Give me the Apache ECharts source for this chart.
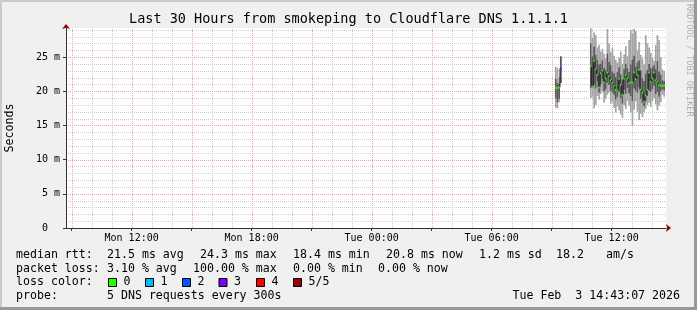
<!DOCTYPE html>
<html><head><meta charset="utf-8">
<script src="https://cdn.jsdelivr.net/npm/echarts@6/dist/echarts.min.js"></script>
<style>html,body{margin:0;padding:0;background:#f0f0f0;}#c{width:697px;height:310px;}</style>
</head><body><div id="c"></div>
<script>
// ---------------- data ----------------
const titleText = 'Last 30 Hours from smokeping to Cloudflare DNS 1.1.1.1';
const yAxisName = 'Seconds';
const rangeStart = 'Mon 08:43:07';
const rangeEnd = 'Tue 14:43:07';
const stepMinutes = 5;
const xLabelHours = [12, 18, 24, 30, 36];
const majorGridHours = [9, 12, 15, 18, 21, 24, 27, 30, 33, 36];
const minorGridHours = [10, 11, 13, 14, 16, 17, 19, 20, 22, 23, 25, 26, 28, 29, 31, 32, 34, 35, 37, 38];
const yMajorTicks = [0, 5, 10, 15, 20, 25];
const yMajorGrid = [5, 10, 15, 20, 25];
const yMinorTicks = [1, 2, 3, 4, 6, 7, 8, 9, 11, 12, 13, 14, 16, 17, 18, 19, 21, 22, 23, 24, 26, 27, 28, 29];
const yMax = 29.25;

// step start times (5 min steps), rtt in ms: sorted pings min, 2nd, median, 4th, max
const stepTimes = ['Tue 09:10','Tue 09:15','Tue 09:20','Tue 09:25',
  'Tue 10:55','Tue 11:00','Tue 11:05','Tue 11:10','Tue 11:15','Tue 11:20','Tue 11:25','Tue 11:30','Tue 11:35','Tue 11:40',
  'Tue 11:45','Tue 11:50','Tue 11:55','Tue 12:00','Tue 12:05','Tue 12:10','Tue 12:15','Tue 12:20','Tue 12:25','Tue 12:30',
  'Tue 12:35','Tue 12:40','Tue 12:45','Tue 12:50','Tue 12:55','Tue 13:00','Tue 13:05','Tue 13:10','Tue 13:15','Tue 13:20',
  'Tue 13:25','Tue 13:30','Tue 13:35','Tue 13:40','Tue 13:45','Tue 13:50','Tue 13:55','Tue 14:00','Tue 14:05','Tue 14:10',
  'Tue 14:15','Tue 14:20','Tue 14:25','Tue 14:30','Tue 14:35'];
const pingMin = [17.6, 17.5, 18.4, 21.2,
  19.0, 19.2, 17.5, 18.0, 19.3, 18.8, 19.6, 20.0, 18.3, 18.9,
  19.5, 19.8, 18.2, 18.5, 17.6, 16.9, 17.8, 17.2, 16.6, 16.1,
  18.0, 17.4, 18.6, 17.9, 16.9, 14.9, 17.3, 18.5, 17.0, 15.8,
  16.7, 16.2, 16.9, 17.4, 18.0, 18.3, 17.7, 18.6, 19.0, 18.1,
  17.2, 17.9, 18.4, 19.5, 19.2];
const ping2 = [19.0, 18.4, 18.9, 21.2,
  20.5, 20.5, 21.0, 20.4, 21.5, 19.8, 21.0, 21.8, 20.0, 20.3,
  21.2, 20.9, 20.1, 19.8, 19.5, 18.8, 19.2, 19.9, 19.0, 18.2,
  20.2, 19.6, 20.5, 19.7, 19.3, 18.6, 20.4, 20.1, 19.8, 20.6,
  18.9, 18.3, 17.8, 18.5, 19.3, 20.1, 19.9, 20.3, 20.8, 19.6,
  19.9, 19.2, 20.0, 20.3, 20.1];
const pingMedian = [20.5, 20.5, 20.6, 23.3,
  23.6, 20.7, 24.4, 23.2, 22.4, 20.6, 22.7, 23.0, 21.3, 21.9,
  22.7, 22.2, 21.6, 21.2, 20.8, 20.2, 20.1, 21.8, 20.9, 19.5,
  21.9, 22.3, 21.9, 21.2, 21.3, 21.3, 22.7, 21.8, 22.4, 23.1,
  20.2, 19.8, 18.5, 19.4, 20.2, 22.7, 21.4, 21.9, 22.7, 21.6,
  21.4, 20.9, 20.8, 20.8, 20.8];
const ping4 = [21.8, 21.2, 21.1, 25.1,
  27.0, 25.1, 26.5, 25.3, 24.6, 23.9, 24.0, 24.5, 23.4, 23.1,
  25.5, 24.3, 23.8, 22.9, 22.6, 22.0, 22.8, 23.5, 22.5, 21.6,
  23.2, 24.0, 23.4, 22.8, 23.9, 24.6, 25.2, 23.6, 24.2, 24.5,
  23.0, 21.9, 21.5, 22.6, 23.1, 24.0, 23.3, 23.5, 23.8, 23.2,
  24.4, 22.9, 22.4, 21.6, 21.5];
const pingMax = [23.6, 23.4, 22.0, 25.1,
  29.2, 27.8, 28.6, 28.2, 26.4, 26.8, 25.8, 26.2, 25.5, 24.8,
  29.1, 27.0, 25.7, 26.3, 25.2, 24.6, 24.2, 24.9, 25.8, 24.0,
  25.4, 26.6, 25.1, 27.5, 29.0, 28.5, 29.1, 28.8, 26.0, 27.2,
  25.3, 24.8, 23.9, 28.2, 27.0, 26.4, 25.6, 24.9, 24.5, 26.8,
  28.2, 27.5, 25.0, 23.2, 23.0];
const lossCount = [0, 0, 0, 3,
  0, 0, 0, 0, 0, 0, 0, 0, 0, 0,
  0, 0, 0, 0, 0, 0, 0, 0, 0, 0,
  0, 0, 0, 0, 0, 0, 0, 0, 0, 0,
  0, 0, 0, 0, 0, 0, 0, 0, 0, 0,
  0, 0, 0, 0, 0];
const lossLabels = ['0', '1', '2', '3', '4', '5/5'];
const lossColors = ['#26ff00', '#00b8ff', '#0059ff', '#7e00ff', '#ff0000', '#a10000'];

const legendRows = [
  ['median rtt:', '21.5 ms avg', '24.3 ms max', '18.4 ms min', '20.8 ms now', '1.2 ms sd', '18.2', 'am/s'],
  ['packet loss:', '3.10 % avg', '100.00 % max', '0.00 % min', '0.00 % now'],
];
const probeLabel = 'probe:';
const probeText = '5 DNS requests every 300s';
const lossColorLabel = 'loss color:';
const dateText = 'Tue Feb  3 14:43:07 2026';
const watermark = 'RRDTOOL / TOBI OETIKER';

// ---------------- helpers ----------------
function parseT(s) {
  const [d, hms] = s.split(' ');
  const p = hms.split(':').map(Number);
  return (d === 'Tue' ? 24 : 0) + p[0] + p[1] / 60 + (p[2] || 0) / 3600;
}
const pad = n => (n < 10 ? '0' : '') + n;
const STEP = stepMinutes / 60;
const data = stepTimes.map((t, i) => [parseT(t), pingMin[i], ping2[i], pingMedian[i], ping4[i], pingMax[i], lossCount[i]]);
const XMIN = parseT(rangeStart), XMAX = parseT(rangeEnd);

const MONO = '"DejaVu Sans Mono", monospace';
const LEG_FONT = '11.6px "DejaVu Sans Mono", monospace';

function renderSmoke(params, api) {
  const t = api.value(0);
  const xL = api.coord([t, 0])[0];
  const xR = api.coord([t + STEP, 0])[0];
  const y = v => api.coord([t, v])[1];
  const w = xR - xL;
  const mn = api.value(1), q2 = api.value(2), md = api.value(3), q4 = api.value(4), mx = api.value(5), ls = api.value(6);
  const ch = [
    { type: 'rect', shape: { x: xL, y: y(mx), width: w, height: y(mn) - y(mx) }, style: { fill: '#a4a4a4' } },
    { type: 'rect', shape: { x: xL, y: y(q4), width: w, height: y(q2) - y(q4) }, style: { fill: '#585858' } }
  ];
  const i = params.dataIndexInside;
  if (i > 0) {
    const tp = api.value(0, i - 1);
    if (Math.abs(tp + STEP - t) < 1e-6) {
      ch.push({ type: 'line', shape: { x1: xL, y1: y(api.value(3, i - 1)), x2: xL, y2: y(md) }, style: { stroke: '#202020', lineWidth: 1 } });
    }
  }
  ch.push({ type: 'rect', shape: { x: xL, y: y(md) - 1, width: w, height: 2 }, style: { fill: lossColors[ls] } });
  return { type: 'group', children: ch };
}
// grid line items are [x, y] pairs; vertical lines use x, horizontal lines use y
function vGrid(color) {
  return function (params, api) {
    const h = api.value(0);
    const a = api.coord([h, 0]), b = api.coord([h, yMax]);
    const x = Math.round(a[0]) + 0.5;
    return { type: 'line', shape: { x1: x, y1: a[1], x2: x, y2: b[1] }, style: { stroke: color, lineWidth: 1, lineDash: [1, 1] } };
  };
}
function hGrid(color) {
  return function (params, api) {
    const v = api.value(1);
    const a = api.coord([XMIN, v]), b = api.coord([XMAX, v]);
    const y = Math.round(a[1]) + 0.5;
    return { type: 'line', shape: { x1: a[0], y1: y, x2: b[0], y2: y }, style: { stroke: color, lineWidth: 1, lineDash: [1, 1] } };
  };
}
const MINOR = '#cdcdcd', MAJOR = '#eda3a3';
const gridSeries = (arr, isV, color) => ({
  type: 'custom', xAxisIndex: 0, yAxisIndex: 0, silent: true, z: 1, clip: false,
  renderItem: isV ? vGrid(color) : hGrid(color),
  encode: { x: 0, y: 1 },
  data: arr.map(v => (isV ? [v, 0] : [XMIN, v]))
});

// legend graphics
const legX = [[16, 107, 200, 293, 386, 479, 556, 606], [16, 107, 193, 293, 378]];
const rowY = [254.6, 268.5, 282.4, 296.3];
const graphics = [];
legendRows.forEach((row, r) => row.forEach((txt, j) => {
  graphics.push({ type: 'text', x: legX[r][j], y: rowY[r], style: { text: txt, font: LEG_FONT, fill: '#000', verticalAlign: 'middle', align: 'left' } });
}));
graphics.push({ type: 'text', x: 16, y: rowY[2], style: { text: lossColorLabel, font: LEG_FONT, fill: '#000', verticalAlign: 'middle' } });
const boxX = [109, 146, 183, 219.5, 257, 294];
lossLabels.forEach((lab, j) => {
  graphics.push({ type: 'rect', shape: { x: boxX[j] - 0.5, y: 278.5, width: 8, height: 8 }, style: { fill: lossColors[j], stroke: '#000', lineWidth: 1 } });
  graphics.push({ type: 'text', x: boxX[j] + 14.5, y: rowY[2], style: { text: lab, font: LEG_FONT, fill: '#000', verticalAlign: 'middle' } });
});
graphics.push({ type: 'text', x: 16, y: rowY[3], style: { text: probeLabel, font: LEG_FONT, fill: '#000', verticalAlign: 'middle' } });
graphics.push({ type: 'text', x: 107, y: rowY[3], style: { text: probeText, font: LEG_FONT, fill: '#000', verticalAlign: 'middle' } });
graphics.push({ type: 'text', x: 680, y: rowY[3], style: { text: dateText, font: LEG_FONT, fill: '#000', verticalAlign: 'middle', align: 'right' } });
graphics.push({ type: 'text', x: 10, y: 128, rotation: Math.PI / 2, style: { text: yAxisName, font: LEG_FONT, fill: '#000', verticalAlign: 'middle', align: 'center' } });
graphics.push({ type: 'text', x: 689.5, y: 4, rotation: -Math.PI / 2, style: { text: watermark, font: '8.5px "DejaVu Sans Mono", monospace', fill: '#b0b0b0', verticalAlign: 'middle', align: 'left' } });
// frame
graphics.push({ type: 'rect', shape: { x: 0, y: 0, width: 697, height: 2 }, style: { fill: '#cbcbcb' } });
graphics.push({ type: 'rect', shape: { x: 0, y: 0, width: 2, height: 310 }, style: { fill: '#cbcbcb' } });
graphics.push({ type: 'rect', shape: { x: 0, y: 307, width: 697, height: 3 }, style: { fill: '#999999' } });
graphics.push({ type: 'rect', shape: { x: 694, y: 0, width: 3, height: 310 }, style: { fill: '#999999' } });

const chart = echarts.init(document.getElementById('c'), null, { renderer: 'canvas' });
chart.setOption({
  animation: false,
  backgroundColor: '#f0f0f0',
  title: { text: titleText, left: 'center', top: 12, padding: 0, textStyle: { fontFamily: MONO, fontSize: 13.5, fontWeight: 'normal', color: '#000' } },
  grid: { left: 66, top: 28, width: 600, height: 200, show: true, backgroundColor: '#ffffff', borderWidth: 0 },
  xAxis: [
    { type: 'value', min: XMIN, max: XMAX, position: 'bottom',
      axisLine: { show: true, onZero: false, symbol: ['none', 'arrow'], symbolSize: [6, 5], symbolOffset: [0, 5], lineStyle: { color: '#7f0000', width: 1 } },
      axisTick: { show: true, length: 3, customValues: majorGridHours, lineStyle: { color: '#333' } },
      axisLabel: { show: true, customValues: xLabelHours, margin: 5, fontFamily: MONO, fontSize: 10, color: '#000',
        formatter: v => (v < 24 ? 'Mon ' + pad(v) : 'Tue ' + pad(v - 24)) + ':00' },
      splitLine: { show: false } },
    { type: 'value', min: XMIN, max: XMAX, position: 'bottom', z: 5,
      axisLine: { show: true, onZero: false, lineStyle: { color: '#333', width: 1 } },
      axisTick: { show: false }, axisLabel: { show: false }, splitLine: { show: false } }
  ],
  yAxis: [
    { type: 'value', min: 0, max: yMax, position: 'left',
      axisLine: { show: true, onZero: false, symbol: ['none', 'arrow'], symbolSize: [6, 5], symbolOffset: [0, 4], lineStyle: { color: '#7f0000', width: 1 } },
      axisTick: { show: true, length: 3, customValues: yMajorTicks, lineStyle: { color: '#333' } },
      axisLabel: { show: true, customValues: yMajorTicks, margin: 6, fontFamily: MONO, fontSize: 10, color: '#000',
        formatter: v => (v === 0 ? '0  ' : v + ' m') },
      splitLine: { show: false } },
    { type: 'value', min: 0, max: yMax, position: 'left', z: 5,
      axisLine: { show: true, onZero: false, lineStyle: { color: '#333', width: 1 } },
      axisTick: { show: false }, axisLabel: { show: false }, splitLine: { show: false } }
  ],
  series: [
    gridSeries(yMinorTicks, false, MINOR),
    gridSeries(minorGridHours, true, MINOR),
    gridSeries(yMajorGrid, false, MAJOR),
    gridSeries(majorGridHours, true, MAJOR),
    { type: 'custom', xAxisIndex: 0, yAxisIndex: 0, renderItem: renderSmoke, clip: true,
      encode: { x: 0, y: [1, 5] }, data: data, z: 3 }
  ],
  graphic: { elements: graphics }
});
</script></body></html>
